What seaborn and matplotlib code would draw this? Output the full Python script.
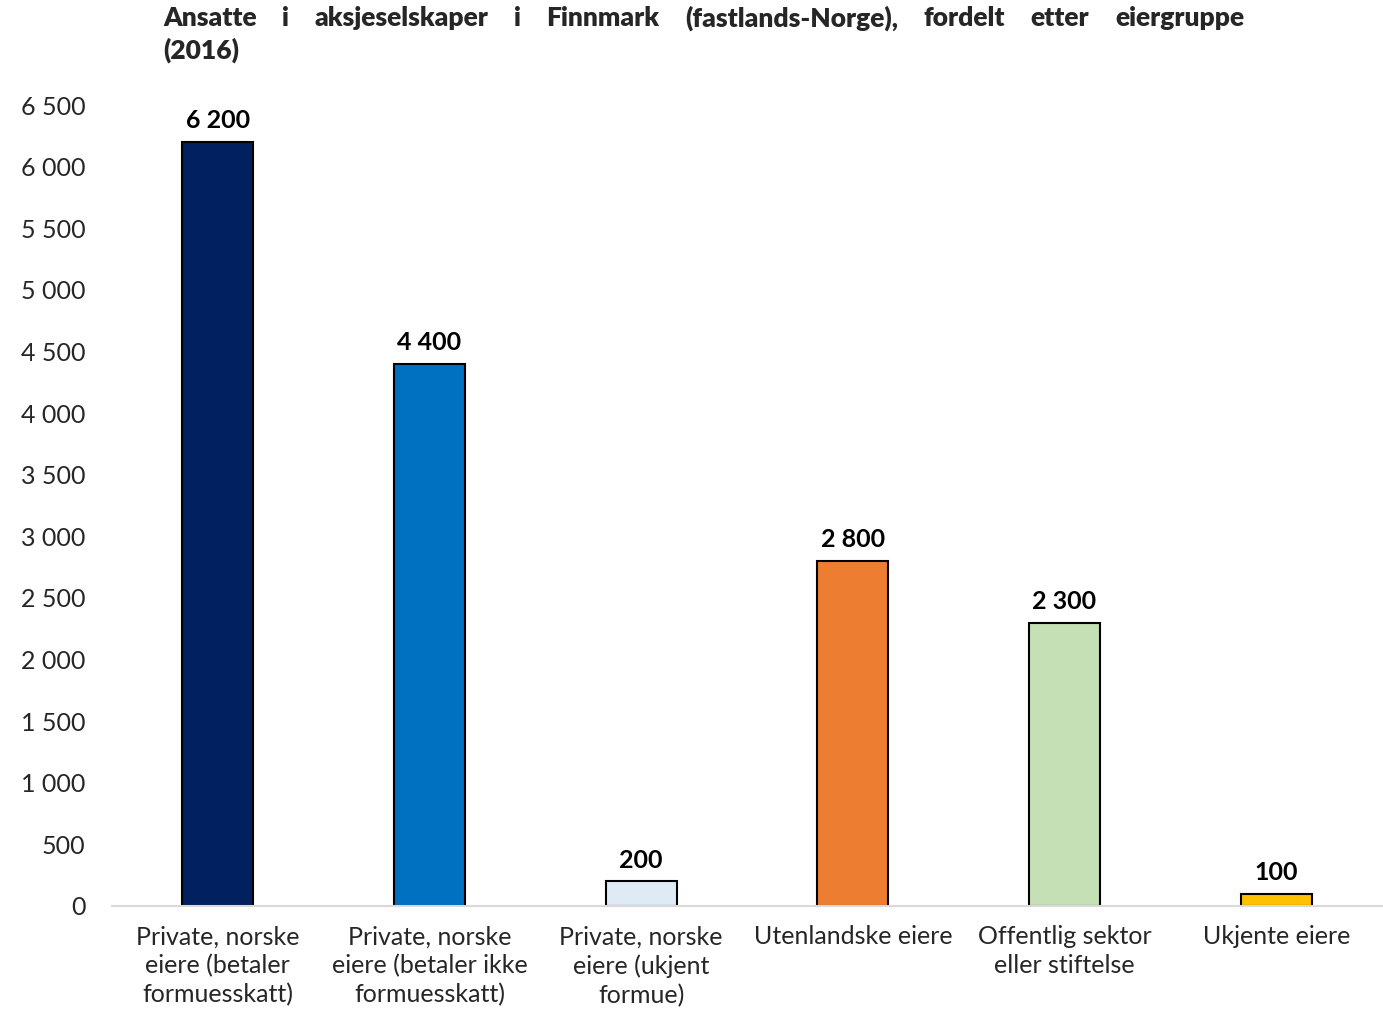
import pandas as pd
import matplotlib
matplotlib.use("Agg")
import matplotlib.pyplot as plt
import seaborn as sns

# data
kategorier = [
    "Private, norske\neiere (betaler\nformuesskatt)",
    "Private, norske\neiere (betaler ikke\nformuesskatt)",
    "Private, norske\neiere (ukjent\nformue)",
    "Utenlandske eiere",
    "Offentlig sektor\neller stiftelse",
    "Ukjente eiere",
]
ansatte = [6200, 4400, 200, 2800, 2300, 100]
farger = ["#002060", "#0070C0", "#DEEBF7", "#ED7D31", "#C5E0B4", "#FFC000"]
y_ticks = list(range(0, 6501, 500))
tittel = ["Ansatte i aksjeselskaper i Finnmark (fastlands-Norge), fordelt etter eiergruppe",
          "(2016)"]

sns.set_theme(style="white")
plt.rcParams['font.family'] = ['Lato', 'DejaVu Sans']

df = pd.DataFrame({"kategori": kategorier, "ansatte": ansatte})

fig = plt.figure(figsize=(13.83, 10.09), dpi=100)
ax = fig.add_axes([0.081, 0.1021, 0.9183, 0.7938])

sns.barplot(data=df, x="kategori", y="ansatte", hue="kategori", palette=farger,
            legend=False, width=0.336, saturation=1, edgecolor="black", linewidth=1.5, ax=ax)

# verdier over stolpene
for container in ax.containers:
    ax.bar_label(container, labels=[f"{v:,.0f}".replace(",", " ") for v in container.datavalues],
                 padding=7, fontsize=18, fontweight="bold", color="black")

ax.set_ylim(0, 6500)
ax.set_xlim(-0.5, 5.5)
ax.set_yticks(y_ticks)
ax.set_yticklabels([f"{v:,}".replace(",", " ") for v in y_ticks], fontsize=18)
ax.tick_params(axis="y", length=0, pad=19)
ax.tick_params(axis="x", length=0, pad=14, labelsize=18)
for lbl in ax.get_xticklabels():
    lbl.set_linespacing(1.3)
ax.set_xlabel("")
ax.set_ylabel("")
for s in ["top", "right", "left"]:
    ax.spines[s].set_visible(False)
ax.spines["bottom"].set_color("#d9d9d9")
ax.spines["bottom"].set_linewidth(1.5)
ax.grid(False)

# tittel, justert første linje
fig.canvas.draw()
renderer = fig.canvas.get_renderer()
venstre, hoyre = 163 / 1383, 1244 / 1383
ord_liste = tittel[0].split(" ")
tekster = [fig.text(0, 0.982, w, fontsize=19, fontweight="heavy", va="center", ha="left")
           for w in ord_liste]
bredder = [t.get_window_extent(renderer).width / fig.bbox.width for t in tekster]
mellom = (hoyre - venstre - sum(bredder)) / (len(ord_liste) - 1)
x = venstre
for t, b in zip(tekster, bredder):
    t.set_x(x)
    x += b + mellom
fig.text(venstre, 0.950, tittel[1], fontsize=19, fontweight="heavy", va="center", ha="left")

fig.savefig("out.png", dpi=100, facecolor="white")
plt.close(fig)
